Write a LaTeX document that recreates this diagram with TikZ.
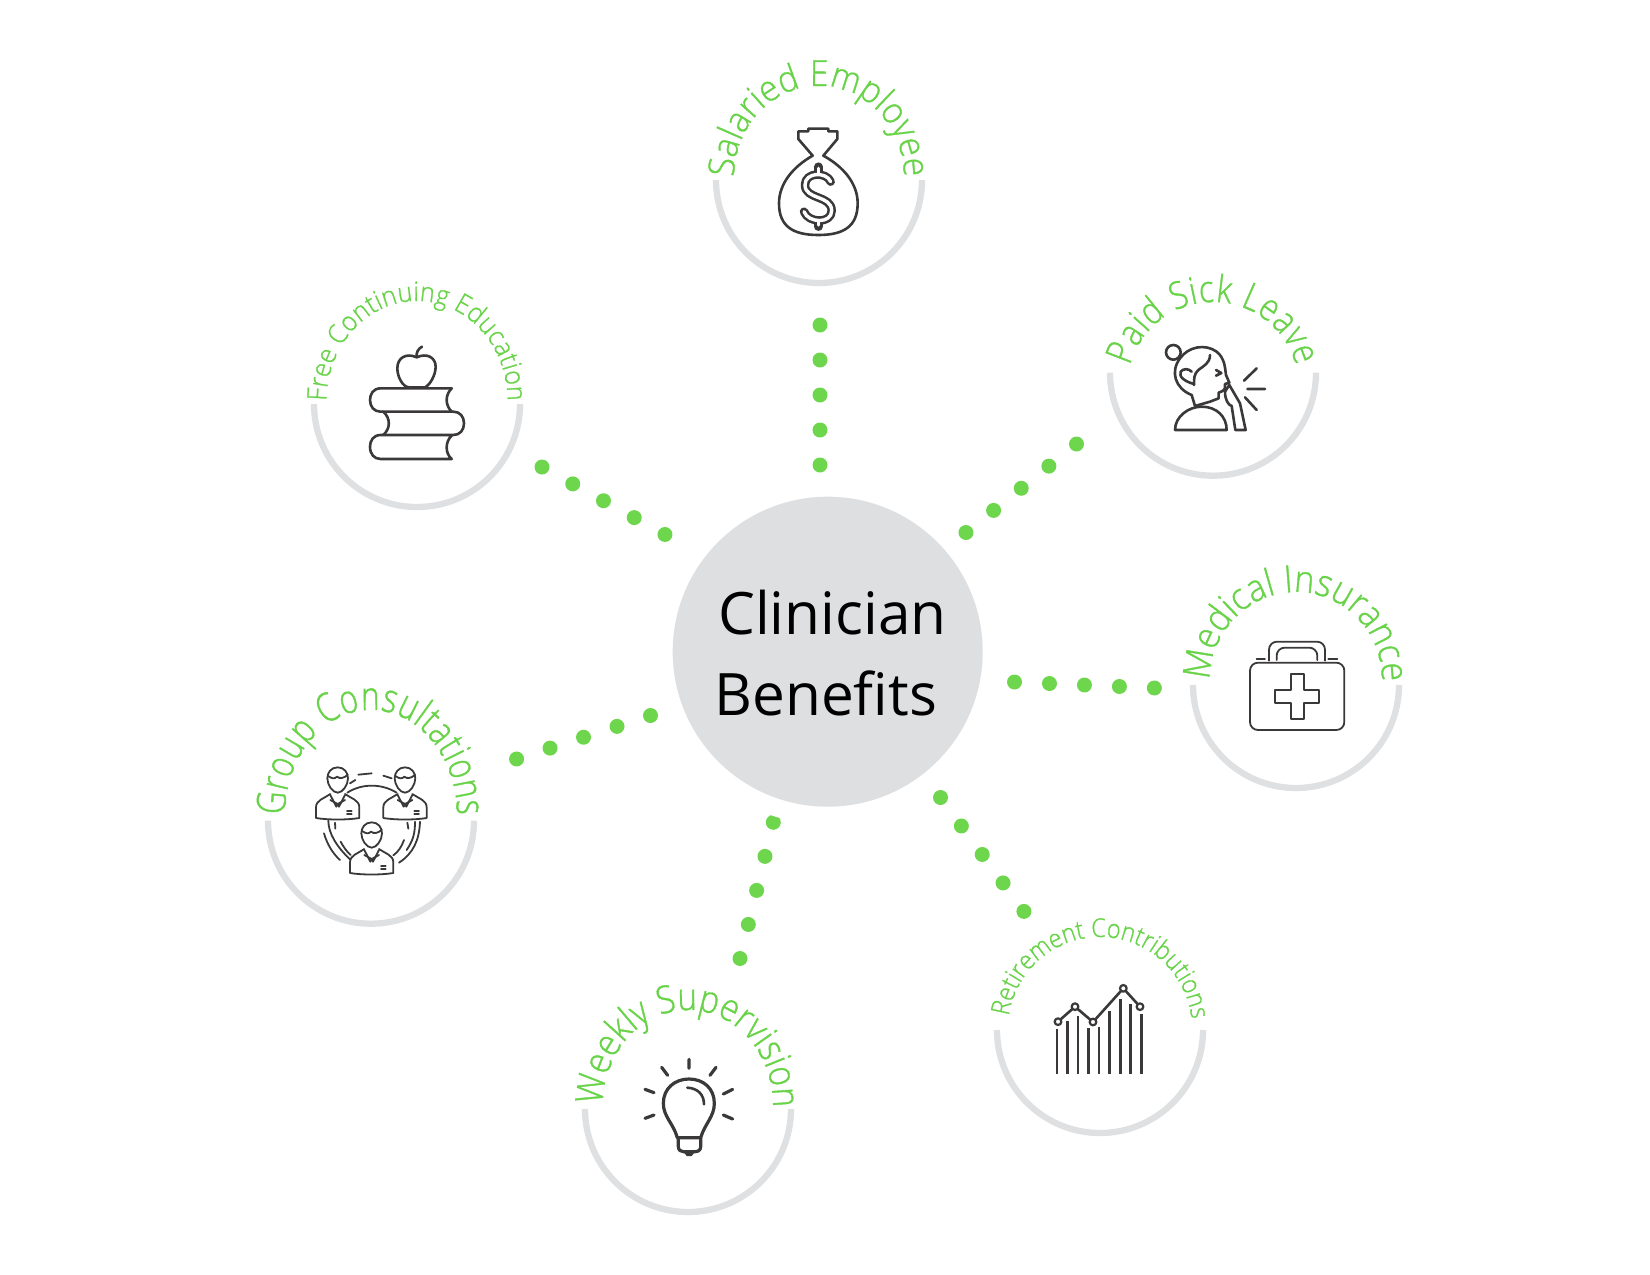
\documentclass[tikz,border=0pt]{standalone}
\usepackage{fontspec}
\setmainfont{Open Sans}
\newfontfamily\arcfont{Open Sans Light}
\usetikzlibrary{decorations.text}
\definecolor{lbl}{RGB}{104,211,72}
\definecolor{dotc}{RGB}{110,214,76}
\definecolor{ringc}{RGB}{223,224,226}
\definecolor{hubc}{RGB}{222,223,225}
\definecolor{ink}{RGB}{58,56,56}
\tikzset{
  x=1pt,y=-1pt,
  ringline/.style={draw=ringc,line width=6.3pt},
  dotline/.style={draw=dotc,line width=15pt,line cap=round,dash pattern=on 0pt off #1pt,shorten >=-1pt},
  icon/.style={draw=ink,line width=2.6pt,line join=round,line cap=round,fill=none},
  thinicon/.style={icon,line width=1.8pt}
}
% name cx cy : ring
\newcommand{\ringarc}[3]{%
  \coordinate (#1) at (#2,#3);
  \draw[ringline] ([xshift=-103pt]#1) arc[start angle=180,end angle=0,radius=103];
}
% cx cy rx ry startangle size stretch text
\newcommand{\arctext}[8]{%
  \path[decorate,decoration={text along path,text align={fit to path},text color=lbl,
    text={|\arcfont\addfontfeature{FakeStretch=#7,FakeBold=1}\fontsize{#6}{#6}\selectfont|#8}}]
    ({#1+#3*cos(#5)},{#2+#4*sin(#5)}) arc[start angle=#5,end angle={540-#5},x radius=#3,y radius=#4];
}
\newcommand{\person}[2]{%
  \begin{scope}[shift={(#1,#2)}]
    \draw[thinicon] (0,-38) .. controls (-20,-38) and (-31,-22) .. (-31,-5) .. controls (-31,15) and (-15,38) .. (0,38) .. controls (15,38) and (31,15) .. (31,-5) .. controls (31,-22) and (20,-38) .. (0,-38);
    \draw[thinicon] (-29,-12) .. controls (-15,-3) and (-10,-3) .. (-2,-10) .. controls (5,-3) and (20,-5) .. (30,-16);
    \draw[thinicon] (-22,42) .. controls (-40,55) and (-65,60) .. (-65,82) -- (-65,114) .. controls (-30,120) and (30,120) .. (65,114) -- (65,82) .. controls (65,60) and (40,55) .. (22,42);
    \draw[thinicon] (-22,45) -- (-4,80) -- (0,72) -- (4,80) -- (22,45);
    \draw[thinicon] (-22,60) -- (0,72) -- (22,60);
    \draw[thinicon] (28,92) -- (42,92) (28,101) -- (42,101);
  \end{scope}
}
\begin{document}
\begin{tikzpicture}
\useasboundingbox (0,0) rectangle (1650,1275);
% dotted connectors
\coordinate (d1a) at (820,325); \coordinate (d1b) at (820,465);
\coordinate (d2a) at (1076.5,444); \coordinate (d2b) at (966,532.5);
\coordinate (d3a) at (1014.5,682); \coordinate (d3b) at (1154.5,688);
\coordinate (d4a) at (940.5,797.5); \coordinate (d4b) at (1024,911.5);
\coordinate (d5a) at (773.3,822.3); \coordinate (d5b) at (740,958.5);
\coordinate (d6a) at (650.5,715.5); \coordinate (d6b) at (516.5,759);
\coordinate (d7a) at (542,467); \coordinate (d7b) at (665,534.5);
\draw[dotline=35] (d1a) -- (d1b);
\draw[dotline=35.4] (d2a) -- (d2b);
\draw[dotline=35] (d3a) -- (d3b);
\draw[dotline=35.3] (d4a) -- (d4b);
\draw[dotline=35.05] (d5a) -- (d5b);
\draw[dotline=35.2] (d6a) -- (d6b);
\draw[dotline=35.07] (d7a) -- (d7b);
% hub with its white halo
\coordinate (hubpos) at (827.7,651.7);
\fill[white] (hubpos) circle (173);
\node[circle,fill=hubc,minimum size=310pt,inner sep=0pt] (hub) at (hubpos) {};
\node[align=left,font=\fontsize{58.5}{81}\selectfont,text=black,inner sep=0pt] (hubtext) at (830.5,653) {\hspace*{3.7pt}Clinician\\Benefits};
% rings
\ringarc{sal}{819}{180}
\ringarc{fre}{417}{404}
\ringarc{sic}{1213}{372.7}
\ringarc{med}{1296}{685}
\ringarc{gro}{371}{820.7}
\ringarc{wee}{688}{1109}
\ringarc{ret}{1100}{1030}
% labels
\arctext{819}{177}{85}{91}{180}{36}{0.93}{Salaried Employee}
\arctext{417}{401}{90.5}{100}{180}{27}{0.92}{Free Continuing Education}
\arctext{1213}{388}{86}{86}{195}{37.5}{0.84}{Paid Sick Leave}
\arctext{1296}{680}{86}{88}{180}{37.5}{0.9}{Medical Insurance}
\arctext{371}{815}{86}{105}{180}{40}{0.78}{Group Consultations}
\arctext{688}{1105}{85}{95}{180}{38}{0.87}{Weekly Supervision}
\arctext{1100}{1029}{92}{92}{188}{26}{0.9}{Retirement Contributions}
% money bag
\begin{scope}[shift={(680,40)},scale=1/3]
\draw[icon] (398,347) .. controls (340,380) and (297,430) .. (297,490) .. controls (297,560) and (340,585) .. (415,585) .. controls (490,585) and (533,560) .. (533,490) .. controls (533,430) and (490,380) .. (430,347) -- (472,297) -- (472,274) -- (445,274) -- (445,266) -- (385,266) -- (385,274) -- (355,274) -- (355,297) -- cycle;
\draw[icon,line width=8.5pt] (415,380) -- (415,395) (415,545) -- (415,560);
\draw[icon,line width=8.5pt] (452,425) .. controls (440,395) and (375,395) .. (375,435) .. controls (375,480) and (455,465) .. (455,512) .. controls (455,552) and (385,550) .. (372,515);
\draw[draw=white,line width=3.4pt,line cap=round] (415,385) -- (415,398) (415,542) -- (415,555);
\draw[draw=white,line width=3.4pt,line cap=round] (452,425) .. controls (440,395) and (375,395) .. (375,435) .. controls (375,480) and (455,465) .. (455,512) .. controls (455,552) and (385,550) .. (372,515);
\end{scope}
% books and apple
\begin{scope}[shift={(290,270)},scale=1/3]
\draw[icon] (380,262) .. controls (350,248) and (322,262) .. (322,295) .. controls (322,320) and (338,352) .. (358,352) -- (405,352) .. controls (420,345) and (437,315) .. (437,290) .. controls (437,262) and (410,248) .. (380,262) .. controls (378,247) and (385,236) .. (396,230);
\draw[icon] (485,355) -- (272,355) .. controls (250,355) and (240,372) .. (240,390) .. controls (240,410) and (252,425) .. (272,425) -- (490,425) .. controls (510,425) and (522,440) .. (522,460) .. controls (522,480) and (510,495) .. (490,495) -- (272,495) .. controls (250,495) and (240,512) .. (240,530) .. controls (240,552) and (252,567) .. (272,567) -- (485,567) .. controls (465,550) and (465,515) .. (485,497);
\draw[icon] (485,355) .. controls (465,375) and (465,405) .. (485,425);
\draw[icon] (280,425) .. controls (302,445) and (302,475) .. (280,495);
\end{scope}
% sick person
\begin{scope}[shift={(1090,260)},scale=1/3]
\draw[icon] (250,277) circle (22);
\draw[icon] (270,295) .. controls (295,260) and (345,250) .. (380,275) .. controls (405,295) and (405,325) .. (408,345) -- (418,368) -- (405,372) -- (405,385) .. controls (400,395) and (390,395) .. (386,398) -- (386,415) -- (360,425) -- (315,438) -- (305,405) .. controls (255,385) and (240,335) .. (270,295);
\draw[icon] (360,285) .. controls (360,310) and (340,318) .. (325,330) .. controls (312,342) and (312,355) .. (312,375);
\draw[icon] (312,372) .. controls (285,365) and (265,350) .. (272,335) .. controls (280,325) and (295,325) .. (305,335);
\draw[icon] (378,330) -- (394,339) -- (378,347);
\draw[icon] (255,510) -- (410,510) .. controls (410,470) and (380,440) .. (335,440) .. controls (295,440) and (255,470) .. (255,510);
\draw[icon] (436,510) -- (467,510) -- (450,430) -- (418,375) -- (405,395) .. controls (405,420) and (415,435) .. (425,438) -- cycle;
\draw[icon] (462,362) -- (500,325) (472,387) -- (525,387) (465,412) -- (500,450);
\end{scope}
% medical case
\begin{scope}[shift={(1170,550)},scale=1/3]
\draw[thinicon,rounded corners=8pt] (240,338) rectangle (523,540);
\draw[thinicon,rounded corners=8pt] (297,332) -- (297,275) -- (465,275) -- (465,332);
\draw[thinicon,rounded corners=8pt] (320,330) -- (320,293) -- (442,293) -- (442,330);
\draw[thinicon] (260,328) -- (285,328) (475,328) -- (502,328);
\draw[thinicon] (362,373) -- (402,373) -- (402,420) -- (448,420) -- (448,460) -- (402,460) -- (402,507) -- (362,507) -- (362,460) -- (315,460) -- (315,420) -- (362,420) -- cycle;
\end{scope}
% group
\begin{scope}[shift={(250,670)},scale=1/3]
\person{263}{330}
\person{465}{330}
\person{365}{495}
\draw[thinicon] (292,368) .. controls (335,340) and (395,340) .. (440,368);
\draw[thinicon] (300,340) -- (316,330) (325,314) -- (365,310) (400,317) -- (425,325);
\draw[thinicon] (235,452) .. controls (235,490) and (260,530) .. (300,568);
\draw[thinicon] (222,490) .. controls (232,525) and (250,552) .. (270,570);
\draw[thinicon] (255,458) -- (256,476) (272,515) .. controls (280,530) and (290,545) .. (302,555);
\draw[thinicon] (495,455) .. controls (495,490) and (490,510) .. (470,540);
\draw[thinicon] (510,455) .. controls (508,510) and (490,550) .. (447,578);
\draw[thinicon] (472,458) -- (475,476) (462,510) .. controls (455,530) and (445,545) .. (430,556);
\end{scope}
% bulb
\begin{scope}[shift={(570,970)},scale=1/3]
\draw[icon,line width=3.2pt] (322,503) .. controls (310,460) and (280,440) .. (280,400) .. controls (280,355) and (315,327) .. (357,327) .. controls (400,327) and (433,355) .. (433,400) .. controls (433,440) and (405,460) .. (392,503) -- cycle;
\draw[icon,line width=3.2pt] (325,503) -- (325,530) .. controls (325,540) and (332,545) .. (340,545) -- (375,545) .. controls (385,545) and (392,540) .. (392,530) -- (392,503);
\fill[ink] (340,545) -- (375,545) -- (365,558) -- (350,558) -- cycle;
\draw[icon] (352,353) .. controls (385,355) and (402,375) .. (402,403);
\draw[icon,line width=3.2pt] (357,268) -- (357,295) (275,292) -- (293,316) (438,292) -- (420,316) (225,358) -- (252,368) (488,358) -- (460,372) (225,445) -- (252,435) (488,447) -- (460,435);
\end{scope}
% chart
\begin{scope}[shift={(980,900)},scale=1/3]
\foreach \bx/\by in {231/388,262/362,294/348,325/385,357/380,389/333,421/298,452/312,484/343}
  \draw[draw=ink,line width=2.7pt] (\bx,\by) -- (\bx,522);
\draw[icon] (234,365) -- (285,320) -- (339,366) -- (430,265) -- (480,320);
\foreach \cx/\cy in {234/365,285/320,339/366,430/265,480/320}
  \draw[icon,fill=white,line width=2.2pt] (\cx,\cy) circle (10);
\end{scope}
\end{tikzpicture}
\end{document}
